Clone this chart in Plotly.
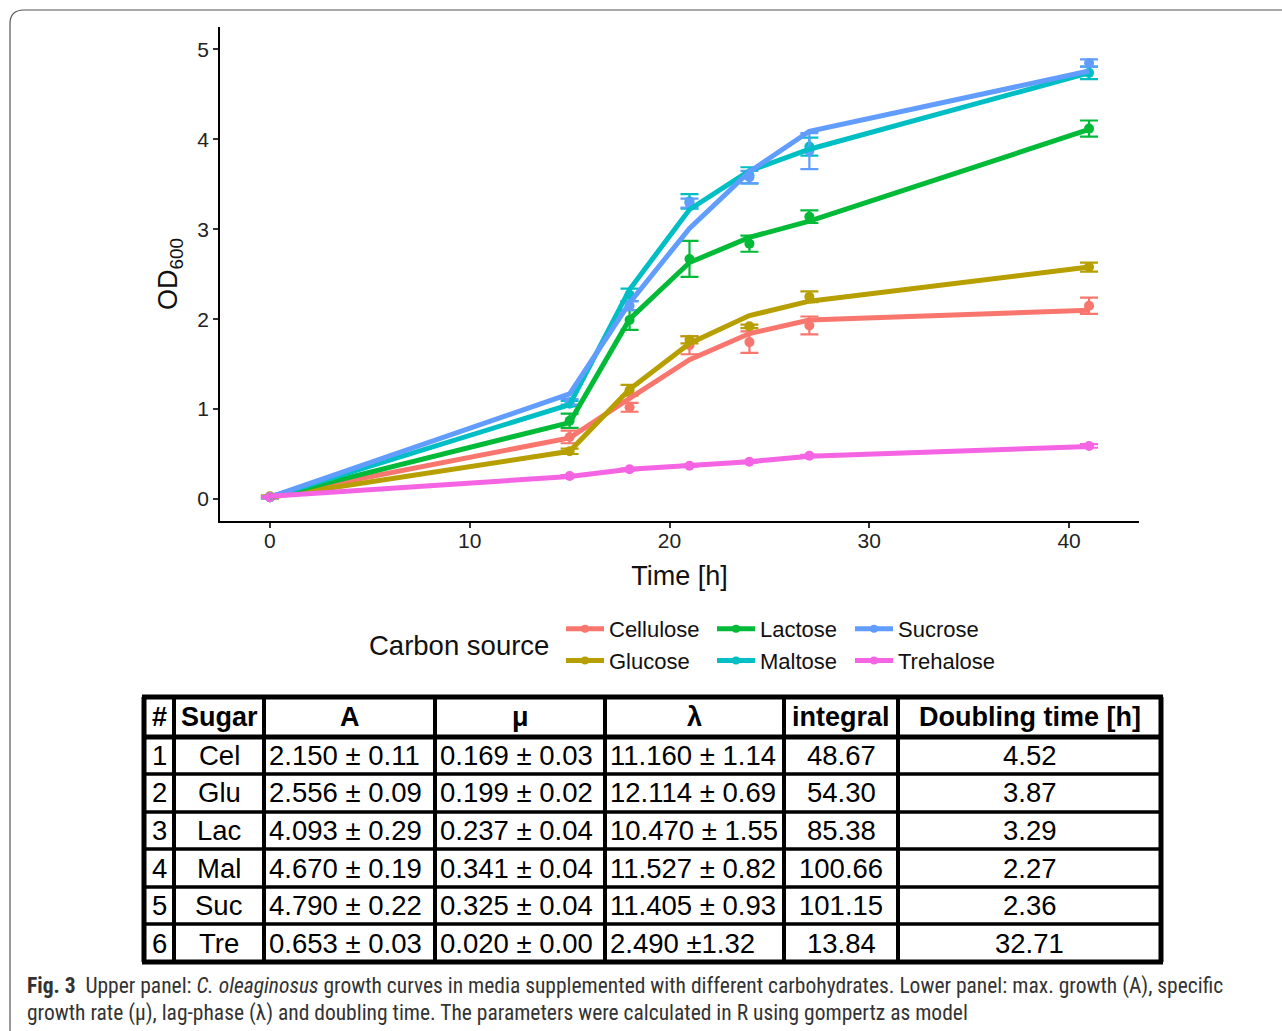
import plotly.graph_objects as go

# ---------------- data ----------------
times = [0, 15, 18, 21, 24, 27, 41]
sources = ["Cellulose", "Glucose", "Lactose", "Maltose", "Sucrose", "Trehalose"]
colors = ["#F8766D", "#B79F00", "#00BA38", "#00BFC4", "#619CFF", "#F564E3"]

mean_cel = [0.02, 0.69, 1.02, 1.71, 1.745, 1.93, 2.15]
sd_cel = [0.01, 0.07, 0.05, 0.10, 0.12, 0.10, 0.09]
fit_cel = [0.03, 0.68, 1.12, 1.55, 1.84, 1.99, 2.10]

mean_glu = [0.03, 0.53, 1.21, 1.77, 1.92, 2.25, 2.58]
sd_glu = [0.01, 0.03, 0.06, 0.04, 0.02, 0.06, 0.05]
fit_glu = [0.02, 0.53, 1.22, 1.73, 2.04, 2.20, 2.58]

mean_lac = [0.02, 0.87, 1.99, 2.67, 2.84, 3.14, 4.12]
sd_lac = [0.01, 0.08, 0.11, 0.20, 0.09, 0.07, 0.09]
fit_lac = [0.02, 0.85, 2.00, 2.63, 2.91, 3.09, 4.11]

mean_mal = [0.02, 1.06, 2.27, 3.31, 3.60, 3.92, 4.74]
sd_mal = [0.01, 0.03, 0.07, 0.08, 0.09, 0.10, 0.07]
fit_mal = [0.02, 1.05, 2.33, 3.22, 3.65, 3.89, 4.74]

mean_suc = [0.02, 1.08, 2.15, 3.29, 3.58, 3.87, 4.85]
sd_suc = [0.01, 0.03, 0.05, 0.05, 0.07, 0.20, 0.04]
fit_suc = [0.02, 1.17, 2.18, 3.01, 3.64, 4.09, 4.76]

mean_tre = [0.02, 0.256, 0.33, 0.37, 0.415, 0.48, 0.59]
sd_tre = [0.01, 0.01, 0.01, 0.01, 0.01, 0.01, 0.02]
fit_tre = [0.03, 0.25, 0.33, 0.37, 0.415, 0.475, 0.585]

means = [mean_cel, mean_glu, mean_lac, mean_mal, mean_suc, mean_tre]
sds = [sd_cel, sd_glu, sd_lac, sd_mal, sd_suc, sd_tre]
fits = [fit_cel, fit_glu, fit_lac, fit_mal, fit_suc, fit_tre]

x_ticks = [0, 10, 20, 30, 40]
y_ticks = [0, 1, 2, 3, 4, 5]

# table
tbl_header = ["#", "Sugar", "A", "μ", "λ", "integral", "Doubling time [h]"]
tbl_num = ["1", "2", "3", "4", "5", "6"]
tbl_sugar = ["Cel", "Glu", "Lac", "Mal", "Suc", "Tre"]
tbl_A = ["2.150 ± 0.11", "2.556 ± 0.09", "4.093 ± 0.29", "4.670 ± 0.19", "4.790 ± 0.22", "0.653 ± 0.03"]
tbl_mu = ["0.169 ± 0.03", "0.199 ± 0.02", "0.237 ± 0.04", "0.341 ± 0.04", "0.325 ± 0.04", "0.020 ± 0.00"]
tbl_lambda = ["11.160 ± 1.14", "12.114 ± 0.69", "10.470 ± 1.55", "11.527 ± 0.82", "11.405 ± 0.93", "2.490 ±1.32"]
tbl_integral = ["48.67", "54.30", "85.38", "100.66", "101.15", "13.84"]
tbl_doubling = ["4.52", "3.87", "3.29", "2.27", "2.36", "32.71"]

caption1 = ("<b>Fig. 3</b>  Upper panel: <i>C. oleaginosus</i> growth curves in media supplemented with "
            "different carbohydrates. Lower panel: max. growth (A), specific")
caption2 = ("growth rate (μ), lag-phase (λ) and doubling time. The parameters were calculated in R "
            "using gompertz as model")

# ---------------- layout helpers ----------------
W, H = 1282, 1031
L, R, T, B = 220, 1139, 27, 521


def px(x):
    return (x - L) / (R - L)


def py(y):
    return (B - y) / (B - T)


fig = go.Figure()

legend_ids = ["legend", "legend", "legend2", "legend2", "legend3", "legend3"]
for i, name in enumerate(sources):
    c = colors[i]
    fig.add_trace(go.Scatter(
        x=times, y=means[i], mode="markers",
        marker=dict(color=c, size=10),
        error_y=dict(type="data", array=sds[i], color=c, thickness=2.2, width=9),
        showlegend=False, hoverinfo="skip"))
for i, name in enumerate(sources):
    c = colors[i]
    fig.add_trace(go.Scatter(
        x=times, y=fits[i], mode="lines",
        line=dict(color=c, width=5),
        showlegend=False, name=name))
    # legend key (line + point), no data drawn
    fig.add_trace(go.Scatter(
        x=[None], y=[None], mode="lines+markers", name=name,
        line=dict(color=c, width=5), marker=dict(color=c, size=8),
        legend=legend_ids[i]))

font_main = "Liberation Sans, Arial, sans-serif"

leg_common = dict(orientation="v", xanchor="left", yanchor="top",
                  font=dict(family=font_main, size=22, color="#111"),
                  bgcolor="rgba(0,0,0,0)", itemwidth=38, tracegroupgap=0)

fig.update_layout(
    width=W, height=H,
    margin=dict(l=L, r=W - R, t=T, b=H - B, autoexpand=False),
    paper_bgcolor="white", plot_bgcolor="white",
    font=dict(family=font_main, color="#111"),
    xaxis=dict(range=[-2.5, 43.5], tickvals=x_ticks, showgrid=False, zeroline=False,
               showline=True, linecolor="black", linewidth=1.5,
               ticks="outside", ticklen=5, tickwidth=1.5, tickcolor="#333",
               ticklabelstandoff=-5,
               tickfont=dict(size=21, color="#222"),
               title=dict(text="Time [h]", font=dict(size=27, color="#111"), standoff=15)),
    yaxis=dict(range=[-0.245, 5.25], tickvals=y_ticks, showgrid=False, zeroline=False,
               showline=True, linecolor="black", linewidth=1.5,
               ticks="outside", ticklen=5, tickwidth=1.5, tickcolor="#333",
               tickfont=dict(size=21, color="#222"),
               title=dict(text="OD<sub>600</sub>", font=dict(size=27, color="#111"), standoff=12)),
    legend=dict(x=px(561), y=py(608), **leg_common),
    legend2=dict(x=px(712), y=py(608), **leg_common),
    legend3=dict(x=px(850), y=py(608), **leg_common),
)

annotations = []
shapes = []

# legend title
annotations.append(dict(x=px(459), y=py(645), xref="paper", yref="paper", text="Carbon source",
                        showarrow=False, font=dict(family=font_main, size=27.5, color="#111"),
                        xanchor="center", yanchor="middle"))

# ---------------- table ----------------
col_x = [144, 174, 264, 435, 605, 784, 898, 1161]
row_y = [697, 737, 774, 812, 849, 887, 924, 962]
columns = [tbl_num, tbl_sugar, tbl_A, tbl_mu, tbl_lambda, tbl_integral, tbl_doubling]
left_aligned = [False, False, True, True, True, False, False]

for j, head in enumerate(tbl_header):
    cx = (col_x[j] + col_x[j + 1]) / 2
    cy = (row_y[0] + row_y[1]) / 2
    annotations.append(dict(x=px(cx), y=py(cy), xref="paper", yref="paper",
                            text="<b>%s</b>" % head, showarrow=False,
                            font=dict(family=font_main, size=27, color="black"),
                            xanchor="center", yanchor="middle"))
for j, col in enumerate(columns):
    for r, val in enumerate(col):
        cy = (row_y[r + 1] + row_y[r + 2]) / 2
        if left_aligned[j]:
            xx, anc = col_x[j] + 3, "left"
        else:
            xx, anc = (col_x[j] + col_x[j + 1]) / 2, "center"
        annotations.append(dict(x=px(xx), y=py(cy), xref="paper", yref="paper",
                                text=val, showarrow=False,
                                font=dict(family=font_main, size=27.5, color="black"),
                                xanchor=anc, yanchor="middle"))

for k, xv in enumerate(col_x):
    wdt = 5 if k in (0, len(col_x) - 1) else 4
    shapes.append(dict(type="line", xref="paper", yref="paper",
                       x0=px(xv), x1=px(xv), y0=py(row_y[0]), y1=py(row_y[-1]),
                       line=dict(color="black", width=wdt)))
for k, yv in enumerate(row_y):
    wdt = 5 if k in (0, 1, len(row_y) - 1) else 3.5
    shapes.append(dict(type="line", xref="paper", yref="paper",
                       x0=px(col_x[0] - 2), x1=px(col_x[-1] + 2), y0=py(yv), y1=py(yv),
                       line=dict(color="black", width=wdt)))

# ---------------- caption ----------------
cap_font = "Liberation Sans Narrow, Roboto Condensed, Roboto, sans-serif"
annotations.append(dict(x=px(25), y=py(986), xref="paper", yref="paper", text=caption1,
                        showarrow=False, font=dict(family=cap_font, size=21.5, color="#333"),
                        xanchor="left", yanchor="middle"))
annotations.append(dict(x=px(25), y=py(1013), xref="paper", yref="paper", text=caption2,
                        showarrow=False, font=dict(family=cap_font, size=21.5, color="#333"),
                        xanchor="left", yanchor="middle"))

# ---------------- frame ----------------
x0f, y0f, rad = 10, 10, 14
path = "M %f,%f L %f,%f Q %f,%f %f,%f L %f,%f" % (
    px(x0f), py(1040), px(x0f), py(y0f + rad), px(x0f), py(y0f), px(x0f + rad), py(y0f),
    px(1300), py(y0f))
shapes.append(dict(type="path", xref="paper", yref="paper", path=path,
                   line=dict(color="#555", width=1.2)))

fig.update_layout(annotations=annotations, shapes=shapes)

fig.write_html("out.html")
